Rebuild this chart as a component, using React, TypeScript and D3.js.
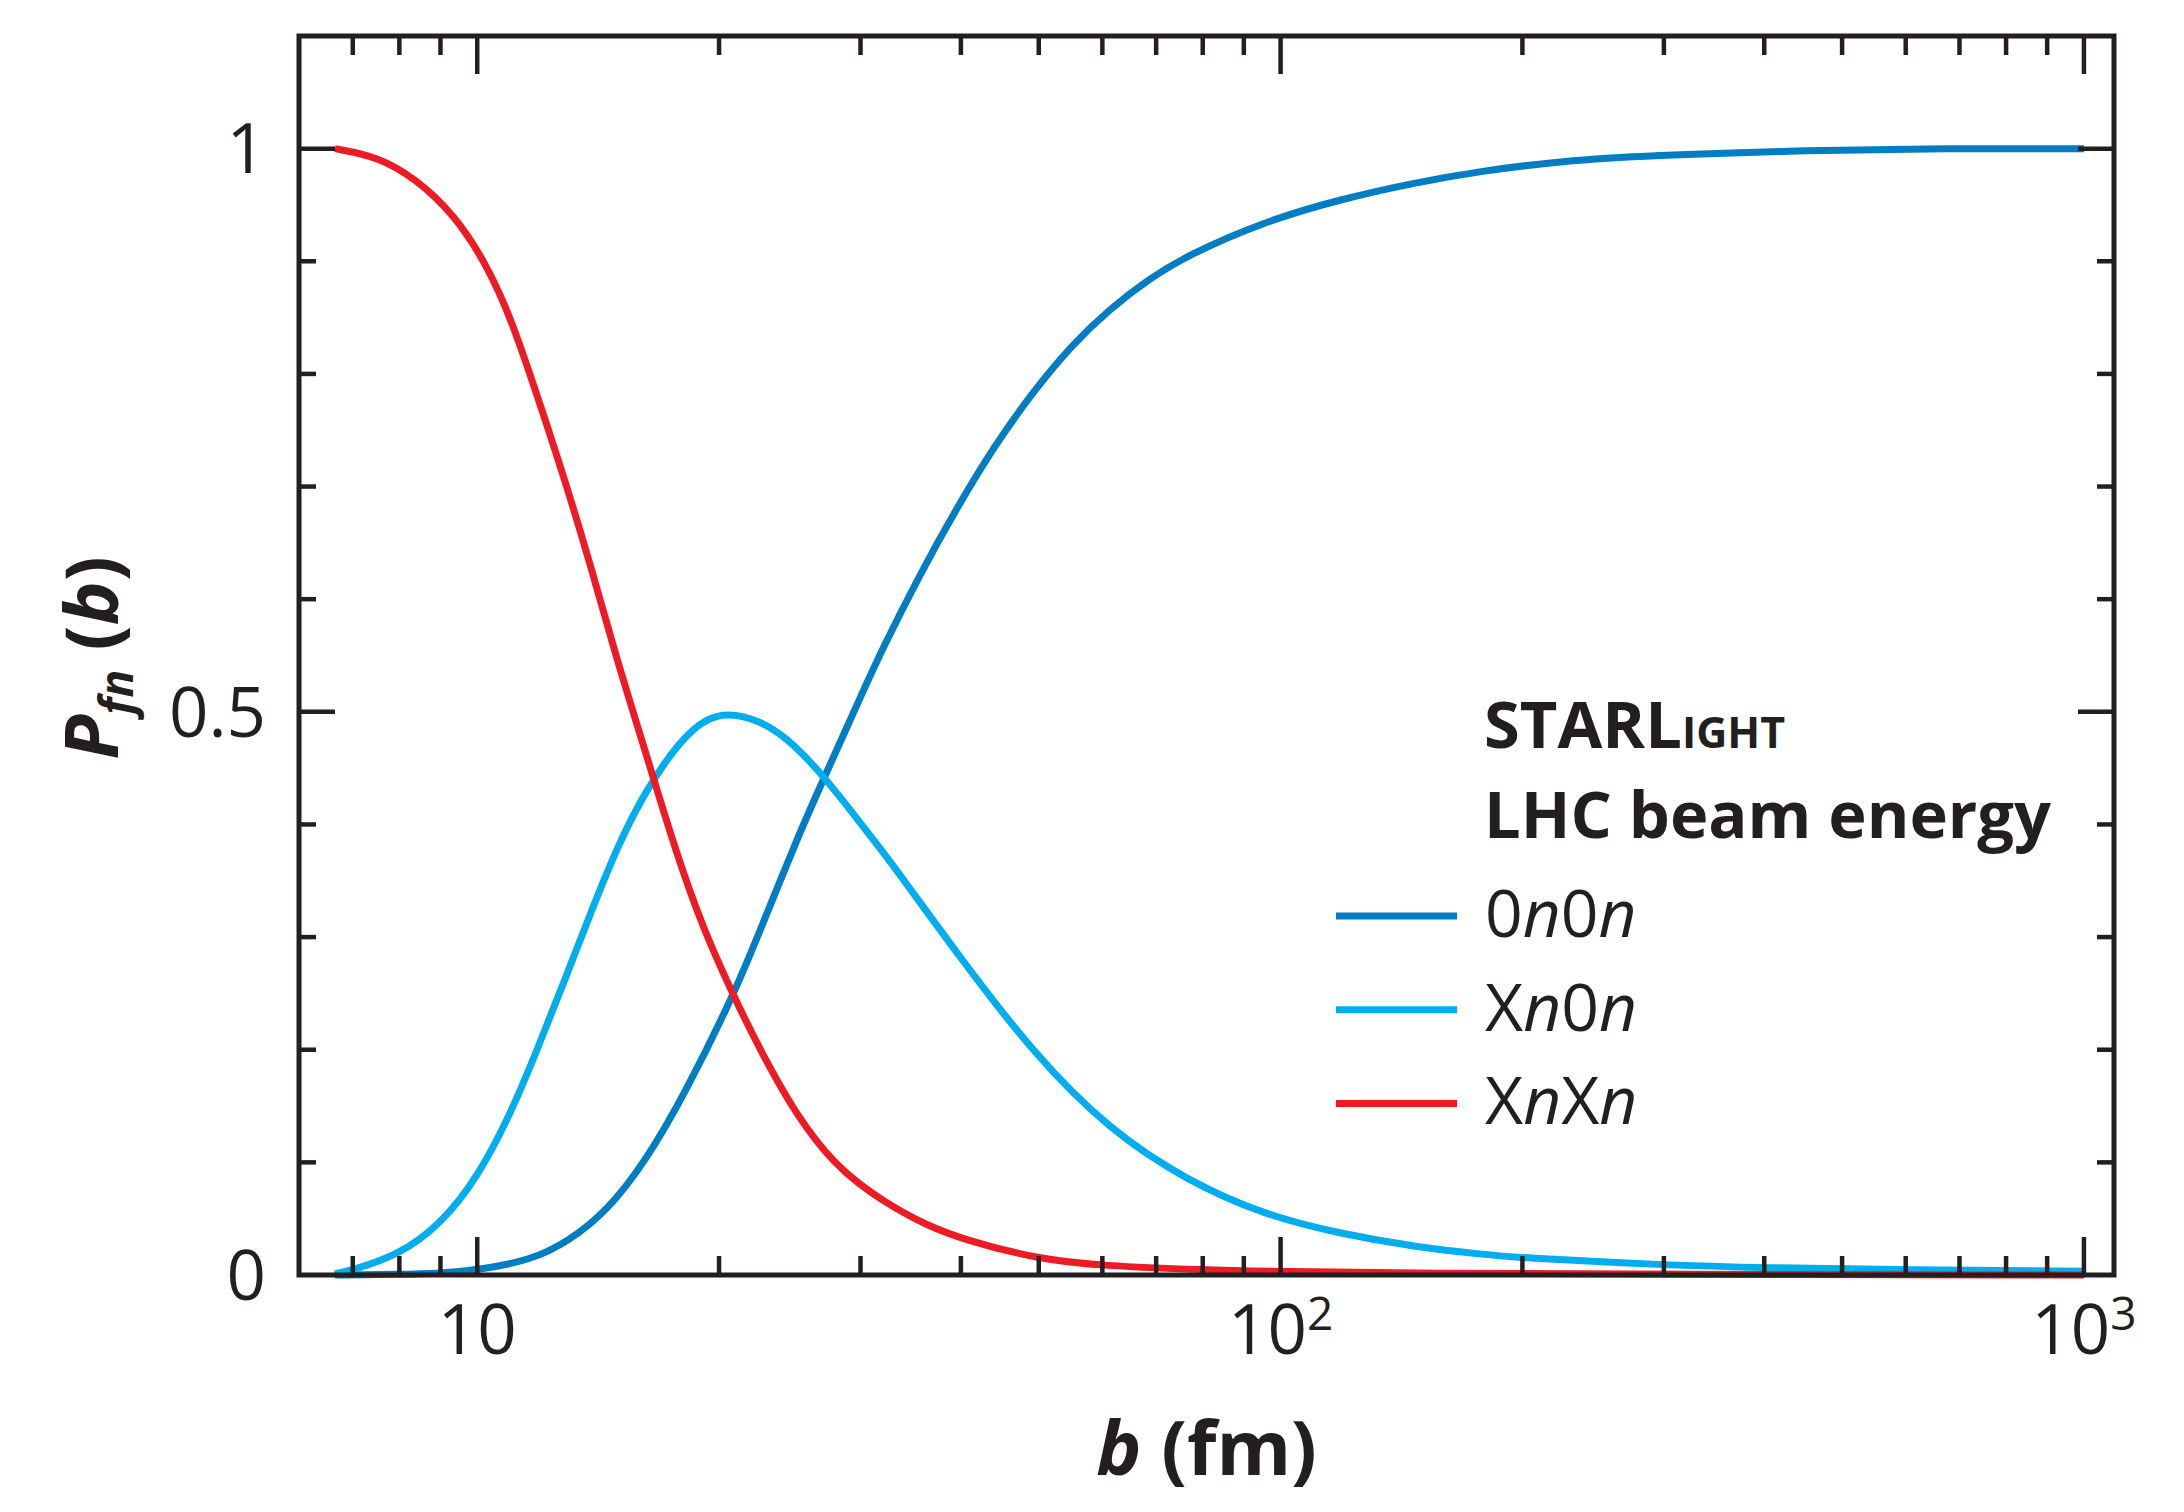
import * as d3 from "d3"

const W = 2184
const H = 1512
const M = { left: 299, right: 2114, top: 36, bottom: 1275 }

const INK = "#231f20"
const FONT = "'Open Sans', 'Noto Sans', sans-serif"

// impact parameter b (fm) and probability
const b0n0n = [6.65, 8, 9, 10, 11.66, 13, 14.52, 16.2, 18.07, 20.84, 22.5, 25.1, 26.97, 30.3, 31.8, 35.5, 39.6, 44.2, 49.3, 55, 61.4, 68.5, 76.4, 95.2, 118.5, 147.5, 177, 223.6, 290, 430, 631, 1000]
const p0n0n = [0, 0.0005, 0.0015, 0.0044, 0.013, 0.03, 0.057, 0.101, 0.159, 0.248, 0.306, 0.39, 0.44, 0.52, 0.553, 0.621, 0.682, 0.738, 0.785, 0.826, 0.858, 0.884, 0.905, 0.935, 0.955, 0.97, 0.98, 0.989, 0.994, 0.998, 1, 1]

const bXn0n = [6.65, 7, 8, 9, 10, 11.04, 11.92, 12.87, 13.9, 15, 16.2, 17.88, 19.3, 20.9, 23.8, 26.8, 29.6, 31.8, 33.7, 39.6, 49.3, 61.4, 76.4, 95.2, 118.5, 147.5, 177, 201, 300, 400, 600, 1000]
const pXn0n = [0.001, 0.0044, 0.018, 0.045, 0.086, 0.145, 0.203, 0.263, 0.325, 0.383, 0.43, 0.4745, 0.495, 0.5, 0.4847, 0.4456, 0.4066, 0.378, 0.354, 0.285, 0.196, 0.128, 0.084, 0.0536, 0.0367, 0.0248, 0.0185, 0.015, 0.0088, 0.0064, 0.0046, 0.0034]

const bXnXn = [6.65, 7.52, 8.4, 9.37, 10.22, 11.04, 12.18, 13.01, 13.9, 14.84, 15.34, 15.85, 16.56, 17.69, 19.09, 20.84, 22.5, 25.1, 28, 30, 32, 34, 36, 40, 50, 60, 80, 100, 150, 300, 1000]
const pXnXn = [1, 0.993, 0.973, 0.941, 0.9, 0.849, 0.757, 0.694, 0.625, 0.553, 0.519, 0.486, 0.442, 0.375, 0.308, 0.248, 0.1996, 0.1385, 0.097, 0.08, 0.066, 0.055, 0.0455, 0.032, 0.014, 0.0082, 0.0045, 0.003, 0.0015, 0.0005, 0]

const yLabelValues = [0, 0.5, 1]
const yLabelText = ["0", "0.5", "1"]
const xLabelValues = [10, 100, 1000]
const xLabelExp = ["", "2", "3"]

type Series = { id: string; label: string; color: string; b: number[]; p: number[] }

const series: Series[] = [
  { id: "0n0n", label: "0n0n", color: "#007dc3", b: b0n0n, p: p0n0n },
  { id: "Xn0n", label: "Xn0n", color: "#00aeef", b: bXn0n, p: pXn0n },
  { id: "XnXn", label: "XnXn", color: "#ed1c24", b: bXnXn, p: pXnXn },
]

const isDecade = (v: number) => Math.abs(Math.log10(v) - Math.round(Math.log10(v))) < 1e-9

export default function App() {
  const x = d3.scaleLog().domain([6, 1090]).range([M.left, M.right])
  const y = d3.scaleLinear().domain([0, 1.1]).range([M.bottom, M.top])

  const line = d3
    .line<[number, number]>()
    .x((d) => x(d[0]))
    .y((d) => y(d[1]))
    .curve(d3.curveBasis)

  const xTicks = x.ticks().filter((t) => t > 6 && t < 1090)
  const yTicks = y.ticks(11).filter((t) => t > 0.001 && t < 1.09)

  const legendX = 1484
  const rowY0 = 916
  const rowH = 93.7

  return (
    <svg
      width={W}
      height={H}
      viewBox={`0 0 ${W} ${H}`}
      style={{ position: "absolute", left: 0, top: 0, background: "#fff" }}
      fontFamily={FONT}
      fill={INK}
    >
      {/* curves */}
      <g fill="none" strokeWidth={7} strokeLinejoin="round">
        {series.map((s) => (
          <path
            key={s.id}
            d={line(s.b.map((b, i) => [b, s.p[i]] as [number, number])) ?? ""}
            stroke={s.color}
          />
        ))}
      </g>

      {/* frame and ticks */}
      <g stroke={INK} strokeWidth={4.5}>
        {xTicks.map((t) => {
          const len = isDecade(t) ? 38 : 19
          return (
            <g key={`x${t}`}>
              <line x1={x(t)} x2={x(t)} y1={M.bottom} y2={M.bottom - len} />
              <line x1={x(t)} x2={x(t)} y1={M.top} y2={M.top + len} />
            </g>
          )
        })}
        {yTicks.map((t) => {
          const major = Math.abs(t - 0.5) < 1e-6 || Math.abs(t - 1) < 1e-6
          const len = major ? 36 : 17
          return (
            <g key={`y${t}`}>
              <line x1={M.left} x2={M.left + len} y1={y(t)} y2={y(t)} />
              <line x1={M.right} x2={M.right - len} y1={y(t)} y2={y(t)} />
            </g>
          )
        })}
        <rect
          x={M.left}
          y={M.top}
          width={M.right - M.left}
          height={M.bottom - M.top}
          fill="none"
          strokeWidth={5}
        />
      </g>

      {/* tick labels */}
      <g fontSize={69}>
        {yLabelValues.map((v, i) => (
          <text key={v} x={M.left - 33} y={y(v)} dy="0.36em" textAnchor="end">
            {yLabelText[i]}
          </text>
        ))}
        {xLabelValues.map((v, i) => (
          <text key={v} x={x(v)} y={1354} textAnchor="middle">
            10
            {xLabelExp[i] && (
              <tspan dy={-24} fontSize={46}>
                {xLabelExp[i]}
              </tspan>
            )}
          </text>
        ))}
      </g>

      {/* axis titles */}
      <text x={(M.left + M.right) / 2} y={1475} textAnchor="middle" fontSize={76} fontWeight={700}>
        <tspan fontStyle="italic">b</tspan> (fm)
      </text>
      <text transform="translate(118, 658) rotate(-90)" textAnchor="middle" fontSize={74} fontWeight={700}>
        <tspan fontStyle="italic">P</tspan>
        <tspan fontStyle="italic" fontSize={46} dy={15}>
          fn
        </tspan>
        <tspan dy={-15}> (</tspan>
        <tspan fontStyle="italic">b</tspan>
        <tspan>)</tspan>
      </text>

      {/* legend */}
      <text x={legendX} y={748} fontSize={65} fontWeight={700}>
        STARL<tspan fontSize={43}>IGHT</tspan>
      </text>
      <text x={legendX} y={838} fontSize={65} fontWeight={700}>
        LHC beam energy
      </text>
      {series.map((s, i) => {
        const ly = rowY0 + i * rowH
        return (
          <g key={`leg${s.id}`}>
            <line x1={1336} x2={1457} y1={ly} y2={ly} stroke={s.color} strokeWidth={7} />
            <text x={legendX + 1} y={ly + 21} fontSize={66}>
              {s.label.split("").map((c, j) => (
                <tspan key={j} fontStyle={c === "n" ? "italic" : "normal"}>
                  {c}
                </tspan>
              ))}
            </text>
          </g>
        )
      })}
    </svg>
  )
}
